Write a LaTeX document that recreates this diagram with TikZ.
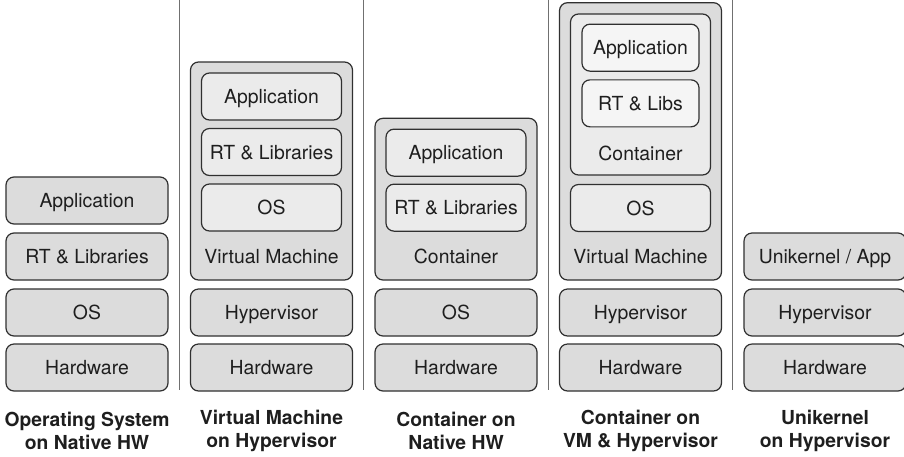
\documentclass[tikz,border=0pt]{standalone}
\usepackage{fontspec}
\setmainfont{TeX Gyre Heros}
\definecolor{edgegray}{HTML}{303030}
\definecolor{boxgray}{HTML}{DCDCDC}
\definecolor{innergray}{HTML}{EBEBEB}
\definecolor{coregray}{HTML}{F5F5F5}
\definecolor{sepgray}{HTML}{707070}
\definecolor{inkgray}{HTML}{1E1E1E}
\tikzset{
  layer/.style={draw=edgegray, fill=boxgray, line width=1.2pt, rounded corners=8pt,
    minimum width=162pt, minimum height=47pt, inner sep=0pt,
    text height=14pt, text depth=0pt, text=inkgray,
    font=\fontsize{19.4}{22}\selectfont},
  inner/.style={layer, fill=innergray, minimum width=140pt},
  core/.style={layer, fill=coregray, minimum width=117pt},
  tag/.style={inner sep=0pt, text height=14pt, text depth=0pt, text=inkgray,
    font=\fontsize{19.4}{22}\selectfont},
  caption/.style={align=center, inner sep=0pt, text=inkgray,
    font=\fontsize{19.3}{22.6}\selectfont\bfseries},
  sep/.style={draw=sepgray, line width=1pt}
}
\begin{document}
\begin{tikzpicture}[x=1pt,y=-1pt]
\useasboundingbox (0,0) rectangle (904,456);
% separators between the five stacks
\coordinate (s1t) at (179.25,0);
\coordinate (s1b) at (179.25,390);
\coordinate (s2t) at (363.75,0);
\coordinate (s2b) at (363.75,390);
\coordinate (s3t) at (548.25,0);
\coordinate (s3b) at (548.25,390);
\coordinate (s4t) at (732.75,0);
\coordinate (s4b) at (732.75,390);
\draw[sep] (s1t) -- (s1b);
\draw[sep] (s2t) -- (s2b);
\draw[sep] (s3t) -- (s3b);
\draw[sep] (s4t) -- (s4b);
% operating system on native hardware
\node[layer] (hw1) at (87,367.5) {Hardware};
\node[layer] (os1) at (87,312.5) {OS};
\node[layer] (rt1) at (87,256.5) {RT \& Libraries};
\node[layer] (app1) at (87,200.5) {Application};
% virtual machine on hypervisor
\node[layer] (hw2) at (271.5,367.5) {Hardware};
\node[layer] (hyp2) at (271.5,312.5) {Hypervisor};
\node[layer, minimum height=218pt] (vm2) at (271.5,171) {};
\node[inner] (app2) at (271.5,96.5) {Application};
\node[inner] (rt2) at (271.5,152) {RT \& Libraries};
\node[inner] (os2) at (271.5,207.5) {OS};
\node[tag] (vm2tag) at (271.5,256) {Virtual Machine};
% container on native hardware
\node[layer] (hw3) at (456,367.5) {Hardware};
\node[layer] (os3) at (456,312.5) {OS};
\node[layer, minimum height=161.7pt] (con3) at (456,199.15) {};
\node[inner] (app3) at (456,152.65) {Application};
\node[inner] (rt3) at (456,207.65) {RT \& Libraries};
\node[tag] (con3tag) at (456,256) {Container};
% container on virtual machine and hypervisor
\node[layer] (hw4) at (640.5,367.5) {Hardware};
\node[layer] (hyp4) at (640.5,312.5) {Hypervisor};
\node[layer, minimum height=277.3pt] (vm4) at (640.5,141.35) {};
\node[inner, minimum height=161pt] (con4) at (640.5,94.5) {};
\node[core] (app4) at (640.5,47.65) {Application};
\node[core] (rt4) at (640.5,103.35) {RT \& Libs};
\node[tag] (con4tag) at (640.5,153) {Container};
\node[inner] (os4) at (640.5,208) {OS};
\node[tag] (vm4tag) at (640.5,256) {Virtual Machine};
% unikernel on hypervisor
\node[layer] (hw5) at (825,367.5) {Hardware};
\node[layer] (hyp5) at (825,312.5) {Hypervisor};
\node[layer] (uni5) at (825,256.5) {Unikernel / App};
% captions
\node[caption] (cap1) at (87,431) {Operating System\\on Native HW};
\node[caption] (cap2) at (271.5,431) {Virtual Machine\\on Hypervisor};
\node[caption] (cap3) at (456,431) {Container on\\Native HW};
\node[caption] (cap4) at (640.5,431) {Container on\\VM \& Hypervisor};
\node[caption] (cap5) at (825,431) {Unikernel\\on Hypervisor};
\end{tikzpicture}
\end{document}
